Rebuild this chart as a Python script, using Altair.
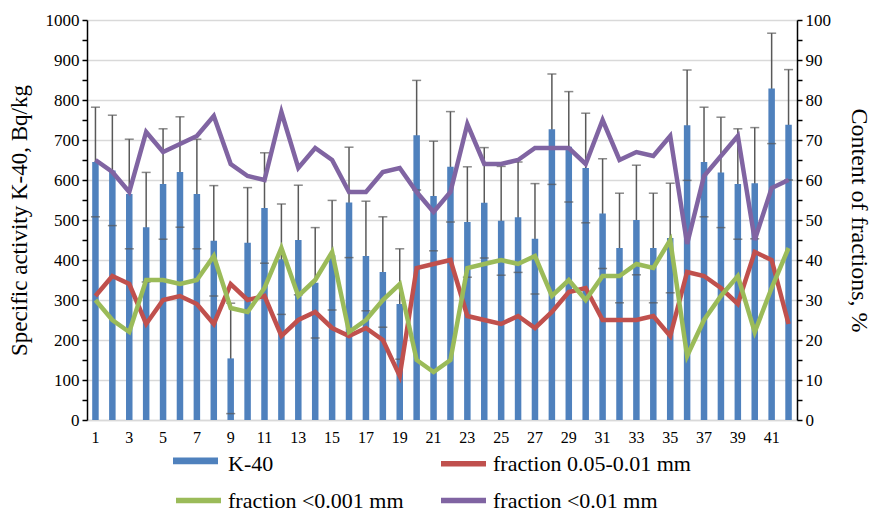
import altair as alt
import pandas as pd

samples = list(range(1, 43))

k40 = [645, 624, 565, 482, 590, 620, 565, 448, 154, 443,
       530, 402, 450, 343, 412, 544, 410, 370, 290, 712,
       560, 633, 495, 543, 498, 507, 453, 727, 683, 630,
       516, 430, 500, 430, 455, 737, 645, 619, 590, 592,
       829, 738]

k40_err = [137, 138, 137, 137, 138, 138, 137, 138, 138, 138,
           138, 138, 137, 138, 137, 138, 137, 138, 138, 137,
           137, 138, 138, 138, 136, 138, 138, 138, 138, 137,
           137, 137, 137, 137, 137, 138, 137, 138, 138, 139,
           138, 138]

frac_005_001 = [31, 36, 34, 24, 30, 31, 29, 24, 34, 30,
                31, 21, 25, 27, 23, 21, 23, 20, 11, 38,
                39, 40, 26, 25, 24, 26, 23, 27, 32, 33,
                25, 25, 25, 26, 21, 37, 36, 33, 29, 42,
                40, 24]

frac_lt0001 = [30, 25, 22, 35, 35, 34, 35, 41, 28, 27,
               33, 43, 31, 35, 42, 22, 25, 30, 34, 15,
               12, 15, 38, 39, 40, 39, 41, 31, 35, 30,
               36, 36, 39, 38, 45, 16, 25, 31, 36, 22,
               33, 43]

frac_lt001 = [65, 62, 57, 72, 67, 69, 71, 76, 64, 61,
              60, 77, 63, 68, 65, 57, 57, 62, 63, 57,
              52, 57, 74, 64, 64, 65, 68, 68, 68, 64,
              75, 65, 67, 66, 71, 44, 61, 66, 71, 45,
              58, 60]

left_ticks = list(range(0, 1001, 50))
grid_values = list(range(0, 1001, 100))
right_ticks = list(range(0, 101, 5))

series_names = ["K-40", "fraction 0.05-0.01 mm", "fraction <0.001 mm", "fraction <0.01 mm"]
series_colors = ["#4f81bd", "#c0504d", "#9bbb59", "#8064a2"]

FONT = "Liberation Serif"
SYM = 2025
LEG_X, LEG_Y = 86, 418
LEG_FONT = 22
ROW_PAD = -7
COL_PAD = 26

bar_df = pd.DataFrame({"sample": samples, "k40": k40, "err": k40_err, "series": "K-40"})
line_df = pd.concat([
    pd.DataFrame({"sample": samples, "pct": frac_005_001, "series": series_names[1]}),
    pd.DataFrame({"sample": samples, "pct": frac_lt0001, "series": series_names[2]}),
    pd.DataFrame({"sample": samples, "pct": frac_lt001, "series": series_names[3]}),
])

fill_scale = alt.Scale(domain=series_names[:1], range=series_colors[:1])
stroke_scale = alt.Scale(domain=series_names, range=["transparent"] + series_colors[1:])
left_scale = alt.Scale(domain=[0, 1000])

fill_legend = alt.Legend(
    title=None, orient="none", legendX=LEG_X, legendY=LEG_Y, columns=2, direction="horizontal",
    labelFont=FONT, labelFontSize=LEG_FONT, labelColor="black", labelOffset=4,
    labelExpr="''",
    symbolSize=SYM, symbolType="M-1,-0.15H1V0.15H-1Z", symbolStrokeWidth=0,
    symbolOpacity=1, columnPadding=COL_PAD, rowPadding=ROW_PAD,
)
stroke_legend = alt.Legend(
    title=None, orient="none", legendX=LEG_X, legendY=LEG_Y, columns=2, direction="horizontal",
    labelFont=FONT, labelFontSize=LEG_FONT, labelColor="black", labelOffset=4,
    labelLimit=400,
    symbolSize=SYM, symbolType="stroke", symbolStrokeWidth=5.5,
    symbolOpacity=1, columnPadding=COL_PAD, rowPadding=ROW_PAD,
)

x_axis = alt.Axis(labelAngle=0, labelExpr="datum.value % 2 == 1 ? datum.label : ''",
                  ticks=False, domainColor="#d9d9d9", domainWidth=1.5,
                  labelFont=FONT, labelFontSize=16, labelColor="black",
                  labelPadding=9, grid=False, title=None)
x_enc = alt.X("sample:O", title=None,
              scale=alt.Scale(paddingInner=0, paddingOuter=0), axis=x_axis)

left_axis = alt.Axis(
    orient="left",
    values=left_ticks, format="d",
    labelExpr="datum.value % 100 == 0 ? datum.label : ''",
    title="Specific activity K-40, Bq/kg", titleFont=FONT, titleFontSize=23,
    titleFontWeight="normal", titleColor="black", titlePadding=14,
    labelFont=FONT, labelFontSize=17, labelColor="black", labelPadding=3,
    tickSize=5, tickColor="black", tickWidth=1.5, domainColor="black", domainWidth=1.5,
    grid=False,
)

grid_axis = alt.Axis(
    orient="left",
    values=grid_values, grid=True, gridColor="#d9d9d9", gridWidth=1.5,
    labels=False, ticks=False, domain=False, title=None,
)

bars = alt.Chart(bar_df).mark_bar(size=6.5).encode(
    x=x_enc,
    y=alt.Y("k40:Q", scale=left_scale, axis=left_axis),
    fill=alt.Fill("series:N", scale=fill_scale, legend=fill_legend),
)

err_base = alt.Chart(bar_df).transform_calculate(
    lo="datum.k40 - datum.err", hi="datum.k40 + datum.err"
)
err_rule = err_base.mark_rule(color="#595959", strokeWidth=1.5).encode(
    x=x_enc, y=alt.Y("lo:Q", scale=left_scale, axis=grid_axis), y2="hi:Q")
err_lo = err_base.mark_tick(color="#595959", thickness=1.5, size=9, orient="horizontal").encode(
    x=x_enc, y=alt.Y("lo:Q", scale=left_scale, axis=None))
err_hi = err_base.mark_tick(color="#595959", thickness=1.5, size=9, orient="horizontal").encode(
    x=x_enc, y=alt.Y("hi:Q", scale=left_scale, axis=None))

right_axis = alt.Axis(
    orient="right",
    values=right_ticks, format="d",
    labelExpr="datum.value % 10 == 0 ? datum.label : ''",
    title="Content of fractions, %", titleFont=FONT, titleFontSize=24,
    titleFontWeight="normal", titleColor="black", titlePadding=16,
    labelFont=FONT, labelFontSize=17, labelColor="black", labelPadding=3,
    tickSize=5, tickColor="black", tickWidth=1.5, domainColor="black", domainWidth=1.5,
    grid=False,
)

lines = alt.Chart(line_df).mark_line(strokeWidth=4.5).encode(
    x=x_enc,
    y=alt.Y("pct:Q", scale=alt.Scale(domain=[0, 100]), axis=right_axis),
    stroke=alt.Stroke("series:N", scale=stroke_scale, legend=stroke_legend),
    order=alt.Order("sample:Q"),
)

chart = alt.layer(err_rule, bars, err_lo, err_hi, lines).resolve_scale(y="independent").properties(
    width=710, height=400,
    autosize=alt.AutoSizeParams(type="none"),
    padding={"left": 87, "top": 20, "right": 76, "bottom": 93},
    background="white",
).configure(font=FONT).configure_axis(
    labelFont=FONT, titleFont=FONT
).configure_legend(
    labelFont=FONT
).configure_view(stroke=None)

chart.save("out.html", embed_options={"renderer": "svg", "actions": False})
